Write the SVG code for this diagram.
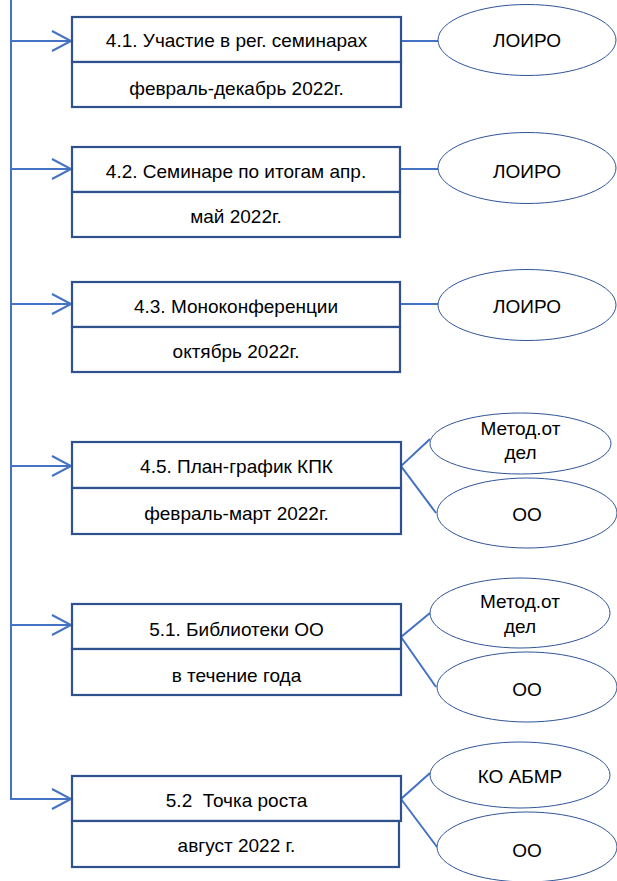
<svg xmlns="http://www.w3.org/2000/svg" width="617" height="881" viewBox="0 0 617 881">
<defs>
<marker id="arr" markerUnits="userSpaceOnUse" markerWidth="24" markerHeight="24" refX="20" refY="11" orient="auto">
<polyline points="1,1 20,11 1,21" fill="none" stroke="#4472C4" stroke-width="2"/>
</marker>
<style>
.box{fill:#fff;stroke:#2F528F;stroke-width:2.2}
.ell{fill:#fff;stroke:#2F5597;stroke-width:1}
.con{fill:none;stroke:#4472C4;stroke-width:2}
text{font-family:"Liberation Sans",Arial,sans-serif;font-size:19px;fill:#000;text-anchor:middle}
</style>
</defs>
<rect width="617" height="881" fill="#fff"/>
<g id="connectors">
<polyline class="con" points="11,0 11,799 71,799" marker-end="url(#arr)"/>
<line class="con" x1="11" y1="41" x2="71" y2="41" marker-end="url(#arr)"/>
<line class="con" x1="11" y1="169" x2="71" y2="169" marker-end="url(#arr)"/>
<line class="con" x1="11" y1="304" x2="71" y2="304" marker-end="url(#arr)"/>
<line class="con" x1="11" y1="466" x2="71" y2="466" marker-end="url(#arr)"/>
<line class="con" x1="11" y1="625" x2="71" y2="625" marker-end="url(#arr)"/>
<line class="con" x1="401" y1="41" x2="438" y2="41"/>
<line class="con" x1="400" y1="169" x2="438" y2="169"/>
<line class="con" x1="400" y1="304" x2="438" y2="304"/>
<polyline class="con" points="430,439 401,466 436,513"/>
<polyline class="con" points="430,613 401,637 436,687"/>
<polyline class="con" points="430,773 401,799 437,847"/>
</g>
<g id="n41">
<rect class="box" x="72" y="17" width="329" height="45"/>
<rect class="box" x="72" y="62" width="329" height="45"/>
<text x="236.5" y="47">4.1. Участие в рег. семинарах</text>
<text x="236.5" y="95">февраль-декабрь 2022г.</text>
</g>
<g id="e41">
<ellipse class="ell" cx="527" cy="40" rx="89" ry="35.5"/>
<text x="527" y="47">ЛОИРО</text>
</g>
<g id="n42">
<rect class="box" x="72" y="147" width="328" height="45"/>
<rect class="box" x="72" y="192" width="328" height="45"/>
<text x="236" y="178">4.2. Семинаре по итогам апр.</text>
<text x="236" y="223">май 2022г.</text>
</g>
<g id="e42">
<ellipse class="ell" cx="527" cy="168" rx="89" ry="35.5"/>
<text x="527" y="178">ЛОИРО</text>
</g>
<g id="n43">
<rect class="box" x="72" y="282" width="328" height="45"/>
<rect class="box" x="72" y="327" width="328" height="45"/>
<text x="236" y="313">4.3. Моноконференции</text>
<text x="236" y="358">октябрь 2022г.</text>
</g>
<g id="e43">
<ellipse class="ell" cx="527" cy="305" rx="89" ry="35.5"/>
<text x="527" y="313">ЛОИРО</text>
</g>
<g id="n45">
<rect class="box" x="72" y="442" width="329" height="46"/>
<rect class="box" x="72" y="488" width="329" height="46"/>
<text x="236.5" y="473">4.5. План-график КПК</text>
<text x="236.5" y="520">февраль-март 2022г.</text>
</g>
<g id="e45a">
<ellipse class="ell" cx="520.5" cy="443.5" rx="90.5" ry="30.5"/>
<text x="520.5" y="435">Метод.от</text>
<text x="520.5" y="459">дел</text>
</g>
<g id="e45b">
<ellipse class="ell" cx="527" cy="513" rx="90" ry="35"/>
<text x="527" y="521">ОО</text>
</g>
<g id="n51">
<rect class="box" x="72" y="604" width="329" height="45"/>
<rect class="box" x="72" y="649" width="329" height="46"/>
<text x="236.5" y="636">5.1. Библиотеки ОО</text>
<text x="236.5" y="682">в течение года</text>
</g>
<g id="e51a">
<ellipse class="ell" cx="520" cy="613" rx="90" ry="35"/>
<text x="520" y="608">Метод.от</text>
<text x="520" y="633">дел</text>
</g>
<g id="e51b">
<ellipse class="ell" cx="527" cy="687" rx="90" ry="35"/>
<text x="527" y="696">ОО</text>
</g>
<g id="n52">
<rect class="box" x="72" y="776" width="329" height="45"/>
<rect class="box" x="72" y="821" width="327" height="46"/>
<text x="236.5" y="807" xml:space="preserve">5.2  Точка роста</text>
<text x="236.5" y="852">август 2022 г.</text>
</g>
<g id="e52a">
<ellipse class="ell" cx="520" cy="775" rx="90" ry="33"/>
<text x="520" y="783">КО АБМР</text>
</g>
<g id="e52b">
<ellipse class="ell" cx="527" cy="847" rx="90" ry="35"/>
<text x="527" y="857">ОО</text>
</g>
</svg>
